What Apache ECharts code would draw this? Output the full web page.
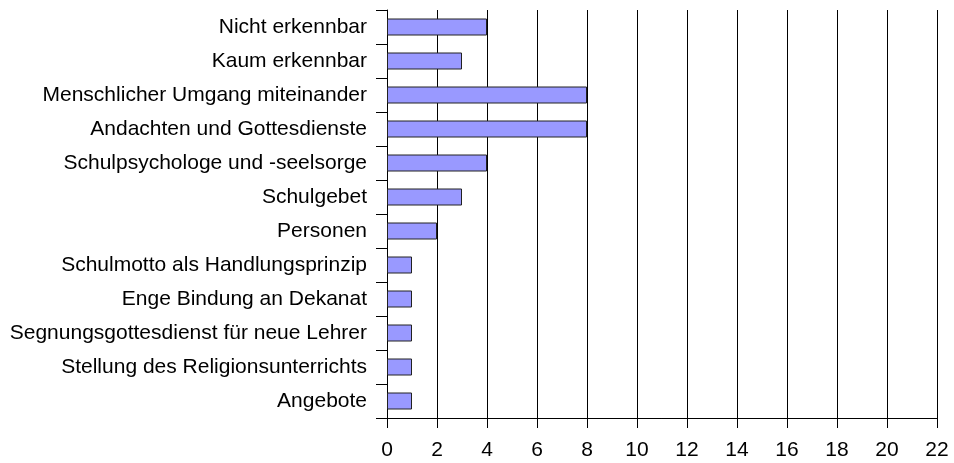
<!DOCTYPE html>
<html>
<head>
<meta charset="utf-8">
<script src="https://cdn.jsdelivr.net/npm/echarts@6/dist/echarts.min.js"></script>
<style>
  html, body { margin: 0; padding: 0; background: #fff; }
  #chart { width: 954px; height: 463px; }
</style>
</head>
<body>
<div id="chart"></div>
<script>
// Kategorien von oben nach unten
const categories = [
  'Nicht erkennbar',
  'Kaum erkennbar',
  'Menschlicher Umgang miteinander',
  'Andachten und Gottesdienste',
  'Schulpsychologe und -seelsorge',
  'Schulgebet',
  'Personen',
  'Schulmotto als Handlungsprinzip',
  'Enge Bindung an Dekanat',
  'Segnungsgottesdienst für neue Lehrer',
  'Stellung des Religionsunterrichts',
  'Angebote'
]
const counts = [4, 3, 8, 8, 4, 3, 2, 1, 1, 1, 1, 1]

const axisMin = 0
const axisMax = 22
const axisStep = 2

const myChart = echarts.init(document.getElementById('chart'))
myChart.setOption({
  animation: false,
  textStyle: { fontFamily: 'Liberation Sans, Arial, sans-serif' },
  grid: { left: 387, right: 17, top: 10, bottom: 45 },
  xAxis: {
    type: 'value',
    min: axisMin,
    max: axisMax,
    interval: axisStep,
    axisLine: { show: true, lineStyle: { color: '#000', width: 1 } },
    axisTick: { show: true, length: 10, lineStyle: { color: '#000' } },
    axisLabel: { color: '#000', fontSize: 21, margin: 22 },
    splitLine: { show: true, lineStyle: { color: '#000', width: 1 } }
  },
  yAxis: {
    type: 'category',
    data: categories,
    inverse: true,
    axisLine: { show: true, lineStyle: { color: '#000', width: 1 } },
    axisTick: { show: true, length: 11, lineStyle: { color: '#000' } },
    axisLabel: { color: '#000', fontSize: 21, margin: 20 },
    splitLine: { show: false }
  },
  series: [{
    type: 'bar',
    data: counts,
    barWidth: 17,
    itemStyle: { color: '#9999ff', borderColor: '#222', borderWidth: 1 }
  }]
})
</script>
</body>
</html>
